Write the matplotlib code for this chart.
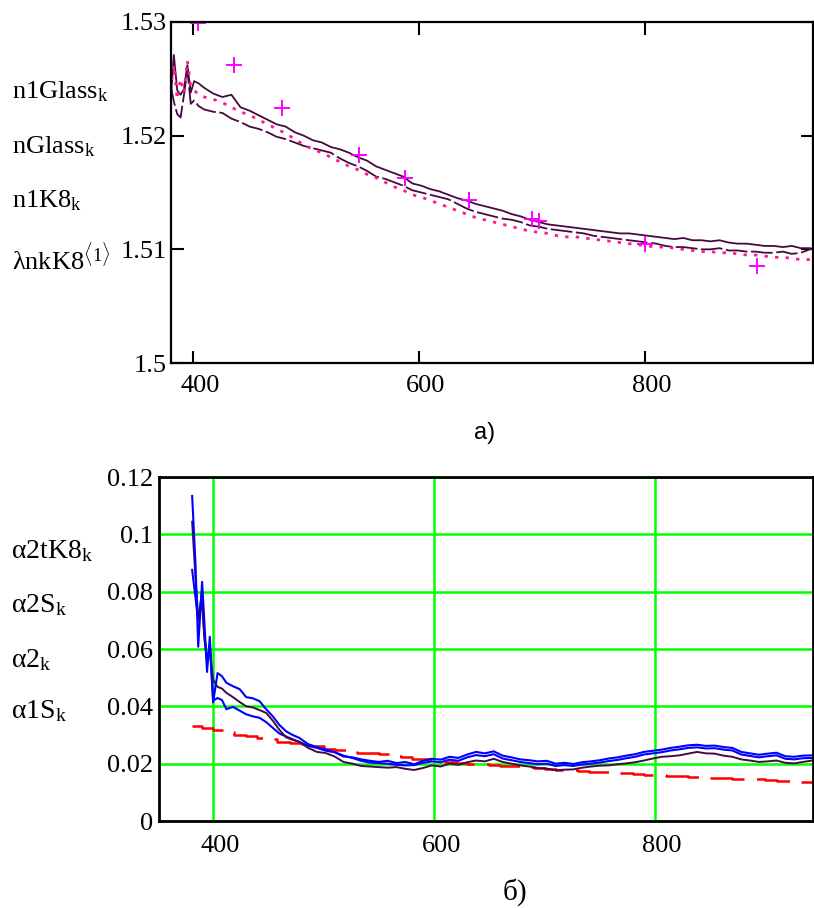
import matplotlib
matplotlib.use("Agg")
import matplotlib.pyplot as plt
import matplotlib.transforms as mtransforms

plt.rcParams['font.family'] = ['Liberation Serif', 'DejaVu Serif', 'DejaVu Sans']
plt.rcParams['mathtext.fontset'] = 'custom'
plt.rcParams['mathtext.rm'] = 'Liberation Serif'
plt.rcParams['mathtext.it'] = 'Liberation Serif:italic'

# ---------------- data: panel a) refractive index ----------------
wl_top = [380, 383, 386, 389, 392, 395, 398, 401, 405, 410,
          418, 426, 434, 442, 450, 458, 466, 474, 482, 490,
          498, 506, 514, 522, 530, 538, 546, 554, 562, 570,
          578, 586, 594, 602, 610, 618, 626, 634, 642, 650,
          658, 666, 674, 682, 690, 698, 706, 714, 722, 730,
          738, 746, 754, 762, 770, 778, 786, 794, 802, 810,
          818, 826, 834, 842, 850, 858, 866, 874, 882, 890,
          898, 906, 914, 922, 930, 938, 946, 950]

n1Glass = [1.5228, 1.5271, 1.5240, 1.5236, 1.5241, 1.5262, 1.5238, 1.5248, 1.5246, 1.5242,
           1.5237, 1.5234, 1.5236, 1.5225, 1.5222, 1.5218, 1.5214, 1.5210, 1.5208, 1.5203,
           1.5200, 1.5196, 1.5194, 1.5190, 1.5188, 1.5185, 1.5181, 1.5178, 1.5173, 1.5170,
           1.5167, 1.5164, 1.5158, 1.5156, 1.5153, 1.5151, 1.5148, 1.5145, 1.5143, 1.5140,
           1.5138, 1.5136, 1.5134, 1.5131, 1.5129, 1.5126, 1.5124, 1.5122, 1.5121, 1.5120,
           1.5119, 1.5118, 1.5117, 1.5116, 1.5115, 1.5114, 1.5114, 1.5113, 1.5112, 1.5111,
           1.5110, 1.5109, 1.5110, 1.5108, 1.5108, 1.5107, 1.5108, 1.5106, 1.5105, 1.5105,
           1.5104, 1.5103, 1.5103, 1.5102, 1.5103, 1.5101, 1.5101, 1.5100]

nGlass = [1.5245, 1.5230, 1.5219, 1.5216, 1.5236, 1.5258, 1.5228, 1.5231, 1.5226, 1.5223,
          1.5221, 1.5220, 1.5215, 1.5212, 1.5208, 1.5206, 1.5203, 1.5199, 1.5197, 1.5194,
          1.5191, 1.5189, 1.5187, 1.5185, 1.5180, 1.5176, 1.5173, 1.5169, 1.5164, 1.5162,
          1.5159, 1.5156, 1.5152, 1.5150, 1.5148, 1.5146, 1.5144, 1.5140, 1.5136, 1.5133,
          1.5131, 1.5129, 1.5127, 1.5126, 1.5124, 1.5121, 1.5120, 1.5118, 1.5117, 1.5116,
          1.5115, 1.5114, 1.5112, 1.5111, 1.5110, 1.5109, 1.5108, 1.5107, 1.5106, 1.5105,
          1.5103, 1.5102, 1.5102, 1.5101, 1.5100, 1.5100, 1.5101, 1.5099, 1.5099, 1.5098,
          1.5098, 1.5097, 1.5097, 1.5098, 1.5096, 1.5097, 1.5100, 1.5101]

n1K8 = [1.5240, 1.5262, 1.5232, 1.5250, 1.5238, 1.5266, 1.5243, 1.5240, 1.5236, 1.5234,
        1.5232, 1.5229, 1.5225, 1.5221, 1.5218, 1.5214, 1.5210, 1.5206, 1.5202, 1.5197,
        1.5192, 1.5188, 1.5185, 1.5181, 1.5177, 1.5173, 1.5170, 1.5166, 1.5163, 1.5159,
        1.5155, 1.5152, 1.5148, 1.5146, 1.5143, 1.5140, 1.5137, 1.5134, 1.5131, 1.5128,
        1.5126, 1.5124, 1.5122, 1.5120, 1.5118, 1.5116, 1.5115, 1.5114, 1.5112, 1.5111,
        1.5111, 1.5110, 1.5109, 1.5108, 1.5107, 1.5106, 1.5105, 1.5104, 1.5103, 1.5102,
        1.5102, 1.5101, 1.5100, 1.5099, 1.5098, 1.5098, 1.5097, 1.5097, 1.5096, 1.5095,
        1.5095, 1.5094, 1.5093, 1.5093, 1.5092, 1.5091, 1.5091, 1.5090]

wl_K8 = [404, 436, 479, 547, 588, 644, 700, 706, 800, 899]
nK8 = [1.5299, 1.5262, 1.5224, 1.5183, 1.5163, 1.5143, 1.5127, 1.5125, 1.5105, 1.5085]

top_yticks = [1.50, 1.51, 1.52, 1.53]
top_yticklabels = ["1.5", "1.51", "1.52", "1.53"]
xticks = [400, 600, 800]
xticklabels = ["400", "600", "800"]

# ---------------- data: panel б) absorption ----------------
wl_bot = [381, 384, 386.5, 390, 392, 394.5, 397, 400, 404, 408,
          412, 418, 424, 430, 436, 442, 448, 454, 460, 466,
          472, 478, 486, 494, 502, 510, 518, 526, 534, 542,
          550, 558, 566, 574, 582, 590, 598, 606, 614, 622,
          630, 638, 646, 654, 662, 670, 678, 686, 694, 702,
          710, 718, 726, 734, 742, 750, 758, 766, 774, 782,
          790, 798, 806, 814, 822, 830, 838, 846, 854, 862,
          870, 878, 886, 894, 902, 910, 918, 926, 934, 942]

a2tK8 = [0.1044, 0.0850, 0.0710, 0.0757, 0.0640, 0.0555, 0.0597, 0.0492, 0.0468, 0.0462,
         0.0447, 0.0432, 0.0415, 0.0400, 0.0396, 0.0387, 0.0377, 0.0350, 0.0318, 0.0292,
         0.0283, 0.0276, 0.0255, 0.0241, 0.0237, 0.0225, 0.0206, 0.0200, 0.0192, 0.0190,
         0.0188, 0.0186, 0.0188, 0.0182, 0.0178, 0.0185, 0.0194, 0.0190, 0.0200, 0.0196,
         0.0205, 0.0211, 0.0208, 0.0217, 0.0206, 0.0200, 0.0194, 0.0190, 0.0185, 0.0183,
         0.0177, 0.0179, 0.0180, 0.0186, 0.0190, 0.0193, 0.0194, 0.0198, 0.0201, 0.0205,
         0.0211, 0.0218, 0.0224, 0.0226, 0.0229, 0.0235, 0.0241, 0.0236, 0.0235, 0.0228,
         0.0224, 0.0215, 0.0211, 0.0206, 0.0208, 0.0211, 0.0203, 0.0201, 0.0206, 0.0211]

a2S = [0.1134, 0.0900, 0.0608, 0.0834, 0.0700, 0.0520, 0.0643, 0.0414, 0.0516, 0.0505,
       0.0482, 0.0470, 0.0460, 0.0432, 0.0428, 0.0418, 0.0390, 0.0365, 0.0335, 0.0313,
       0.0300, 0.0290, 0.0268, 0.0258, 0.0249, 0.0240, 0.0225, 0.0222, 0.0215, 0.0210,
       0.0206, 0.0210, 0.0202, 0.0206, 0.0198, 0.0210, 0.0217, 0.0214, 0.0224, 0.0220,
       0.0232, 0.0241, 0.0236, 0.0243, 0.0228, 0.0222, 0.0215, 0.0212, 0.0208, 0.0210,
       0.0200, 0.0203, 0.0199, 0.0205, 0.0208, 0.0212, 0.0218, 0.0222, 0.0228, 0.0233,
       0.0241, 0.0245, 0.0249, 0.0255, 0.0259, 0.0264, 0.0266, 0.0262, 0.0263, 0.0258,
       0.0255, 0.0241, 0.0236, 0.0231, 0.0235, 0.0238, 0.0226, 0.0224, 0.0228, 0.0229]

a2 = [0.0876, 0.0780, 0.0700, 0.0800, 0.0650, 0.0560, 0.0610, 0.0420, 0.0429, 0.0422,
      0.0390, 0.0398, 0.0385, 0.0372, 0.0365, 0.0360, 0.0345, 0.0325, 0.0305, 0.0295,
      0.0285, 0.0276, 0.0262, 0.0255, 0.0245, 0.0240, 0.0228, 0.0220, 0.0210, 0.0204,
      0.0202, 0.0200, 0.0196, 0.0194, 0.0195, 0.0203, 0.0208, 0.0205, 0.0214, 0.0210,
      0.0222, 0.0230, 0.0226, 0.0233, 0.0218, 0.0212, 0.0206, 0.0202, 0.0198, 0.0200,
      0.0192, 0.0195, 0.0192, 0.0197, 0.0200, 0.0204, 0.0209, 0.0213, 0.0219, 0.0224,
      0.0232, 0.0236, 0.0240, 0.0246, 0.0250, 0.0255, 0.0257, 0.0253, 0.0254, 0.0249,
      0.0246, 0.0232, 0.0227, 0.0222, 0.0226, 0.0229, 0.0217, 0.0215, 0.0219, 0.0220]

wl_red = [381, 390, 400, 409, 419, 430, 440, 448, 458, 470,
          480, 490, 500, 510, 520, 530, 540, 550, 560, 570,
          580, 590, 600, 610, 620, 630, 640, 650, 660, 670,
          680, 690, 700, 710, 720, 730, 740, 750, 760, 770,
          780, 790, 800, 810, 820, 830, 840, 850, 860, 870,
          880, 890, 900, 910, 920, 930, 940, 943]
a1S = [0.0331, 0.0325, 0.0318, 0.0310, 0.0300, 0.0295, 0.0290, 0.0286, 0.0276, 0.0272,
       0.0268, 0.0262, 0.0252, 0.0248, 0.0244, 0.0238, 0.0236, 0.0232, 0.0228, 0.0224,
       0.0218, 0.0216, 0.0212, 0.0207, 0.0203, 0.0200, 0.0198, 0.0196, 0.0192, 0.0191,
       0.0188, 0.0184, 0.0181, 0.0179, 0.0178, 0.0176, 0.0172, 0.0170, 0.0168, 0.0167,
       0.0164, 0.0161, 0.0160, 0.0158, 0.0156, 0.0154, 0.0153, 0.0151, 0.0149, 0.0147,
       0.0146, 0.0145, 0.0143, 0.0140, 0.0138, 0.0137, 0.0136, 0.0135]

bot_yticks = [0, 0.02, 0.04, 0.06, 0.08, 0.10, 0.12]
bot_yticklabels = ["0", "0.02", "0.04", "0.06", "0.08", "0.1", "0.12"]

# ---------------- figure ----------------
W, H = 814, 908
fig = plt.figure(figsize=(W / 100, H / 100), dpi=100)

def ax_rect(l, t, r, b):
    return [l / W, 1 - b / H, (r - l) / W, (b - t) / H]

dark = '#470a40'
pink = '#ff1a8c'

# ---- panel a)
ax1 = fig.add_axes(ax_rect(171, 22, 813, 363))
ax1.plot(wl_top, n1Glass, color=dark, lw=1.3)
ax1.plot(wl_top, nGlass, color=dark, lw=1.3, linestyle=(0, (12, 2)))
ax1.plot(wl_top, n1K8, color=pink, lw=2.0, linestyle=(0, (1.2, 2.6)))
ax1.plot(wl_K8, nK8, linestyle='none', marker='+', markersize=11, mew=1.4, color='#ff00ff')
ax1.set_xlim(380.5, 948.7)
ax1.set_ylim(1.50, 1.53)
ax1.set_xticks(xticks)
ax1.set_xticklabels(xticklabels)
ax1.set_yticks(top_yticks)
ax1.set_yticklabels(top_yticklabels)
ax1.tick_params(axis='both', direction='in', length=9, width=1.5, labelsize=19,
                top=True, right=True, colors='black')
ax1.tick_params(axis='x', pad=9)
ax1.tick_params(axis='y', pad=3)
for s in ax1.spines.values():
    s.set_linewidth(1.6)

# ---- panel б)
ax2 = fig.add_axes(ax_rect(159, 477, 813, 821))
ax2.set_xlim(351, 943)
ax2.set_ylim(0, 0.12)
ax2.set_xticks(xticks)
ax2.set_xticklabels(xticklabels)
ax2.set_yticks(bot_yticks)
ax2.set_yticklabels(bot_yticklabels)
ax2.grid(True, color='#00ff00', lw=1.8)
ax2.set_axisbelow(True)
ax2.plot(wl_red, a1S, color='#ff0000', lw=1.8, drawstyle='steps-post', linestyle=(0, (14, 5)))
ax2.plot(wl_bot, a2, color='#0000ff', lw=1.5)
ax2.plot(wl_bot, a2tK8, color=dark, lw=1.4)
ax2.plot(wl_bot, a2S, color='#0000ff', lw=1.5)
ax2.tick_params(axis='both', length=0, labelsize=19, colors='black')
ax2.tick_params(axis='x', pad=10)
ax2.tick_params(axis='y', pad=4)
for s in ax2.spines.values():
    s.set_linewidth(2.0)

# shift x tick labels slightly right (as in the reference)
off = mtransforms.ScaledTranslation(7 / 100, 0, fig.dpi_scale_trans)
for lab in ax1.get_xticklabels() + ax2.get_xticklabels():
    lab.set_transform(lab.get_transform() + off)

# ---- left-hand variable labels
def ftext(px, py, s, **kw):
    fig.text(px / W, 1 - py / H, s, va='baseline', ha='left', **kw)

top_labels = [r"n1Glass$_{\mathrm{k}}$", r"nGlass$_{\mathrm{k}}$", r"n1K8$_{\mathrm{k}}$",
              r"λnkK8$^{\langle 1\rangle}$"]
top_label_y = [98, 153, 207, 270]
for s, y in zip(top_labels, top_label_y):
    ftext(12, y, s, fontsize=19)

bot_labels = [r"α2tK8$_{\mathrm{k}}$", r"α2S$_{\mathrm{k}}$", r"α2$_{\mathrm{k}}$",
              r"α1S$_{\mathrm{k}}$"]
bot_label_y = [558, 612, 667, 718]
for s, y in zip(bot_labels, bot_label_y):
    ftext(11, y, s, fontsize=20)

# ---- captions
fig.text(485 / W, 1 - 433 / H, "a)", ha='center', va='center', fontsize=17,
         family=['Liberation Sans', 'DejaVu Sans'])
fig.text(515 / W, 1 - 892 / H, "б)", ha='center', va='center', fontsize=21)

fig.savefig("out.png", dpi=100)
